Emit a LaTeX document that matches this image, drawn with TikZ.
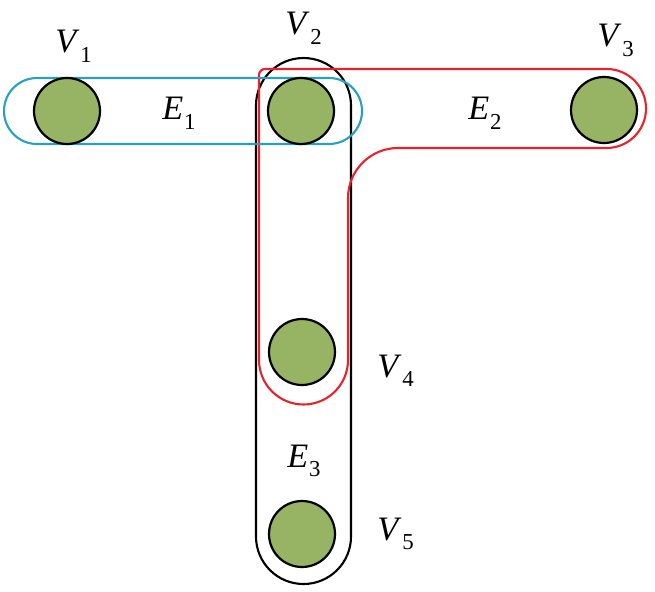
\documentclass[tikz,border=0pt]{standalone}
\usepackage{fontspec}
\setmainfont{Liberation Serif}
\usepackage{tikz}
\definecolor{vgreen}{RGB}{150,180,100}
\definecolor{eblue}{RGB}{40,160,190}
\definecolor{ered}{RGB}{230,35,45}
\newcommand{\hlabel}[2]{\textit{#1}\kern.5pt\raisebox{-5.5pt}{\fontsize{13}{13}\selectfont #2}}
\tikzset{vertex/.style={circle, draw=black, fill=vgreen, line width=1.25pt,
         minimum size=1.32cm, inner sep=0pt},
         hedge/.style={line width=1.2pt},
         lbl/.style={anchor=base west, inner sep=0pt,
         font=\fontsize{19.5}{19.5}\selectfont}}

\begin{document}
\begin{tikzpicture}[x=0.02cm, y=-0.02cm]
    \useasboundingbox (0,0) rectangle (655,591);

    % hyperedges
    \draw[hedge, black, rounded corners=.95cm] (256,58) rectangle (351,584);
    \draw[hedge, ered] (259,360) -- (259,75)
        arc[start angle=180, end angle=270, radius=6] -- (606.5,69)
        arc[start angle=270, end angle=450, radius=39.5] -- (398,148)
        arc[start angle=270, end angle=180, radius=50] -- (348,360)
        arc[start angle=0, end angle=180, radius=44.5] -- cycle;
    \draw[hedge, eblue, rounded corners=.66cm] (4,78) rectangle (362,144);

    % vertices
    \node[vertex] (V1) at (67,111) {};
    \node[vertex] (V2) at (301,111) {};
    \node[vertex] (V3) at (604,110) {};
    \node[vertex] (V4) at (302,352) {};
    \node[vertex] (V5) at (302,534) {};

    % labels
    \node[lbl] (V1l) at (55,53) {\hlabel{V}{1}};
    \node[lbl] (V2l) at (285,35) {\hlabel{V}{2}};
    \node[lbl] (V3l) at (597,47) {\hlabel{V}{3}};
    \node[lbl] (V4l) at (377,377) {\hlabel{V}{4}};
    \node[lbl] (V5l) at (377,540) {\hlabel{V}{5}};
    \node[lbl] (E1l) at (162,120) {\hlabel{E}{1}};
    \node[lbl] (E2l) at (468,120) {\hlabel{E}{2}};
    \node[lbl] (E3l) at (287,467) {\hlabel{E}{3}};
\end{tikzpicture}
\end{document}
